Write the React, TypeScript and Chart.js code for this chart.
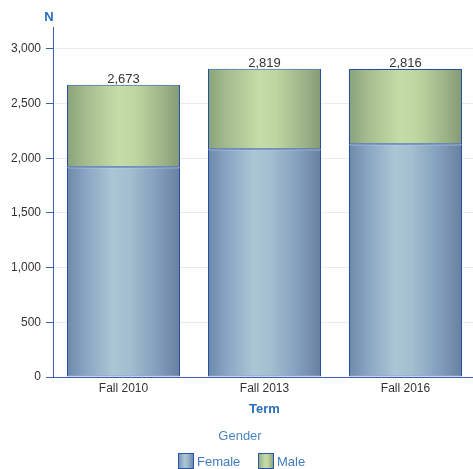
import React, { useEffect, useRef } from "react";
import { Chart, registerables } from "chart.js";

Chart.register(...registerables);

const categories = ["Fall 2010", "Fall 2013", "Fall 2016"];
const femaleValues = [1918, 2083, 2129];
const maleValues = [755, 736, 687];
const yTicks = [0, 500, 1000, 1500, 2000, 2500, 3000];

const FONT = "'Liberation Sans', Arial, sans-serif";

const femaleStops: [number, string][] = [
  [0, "#6f88a9"],
  [0.15, "#87a3c1"],
  [0.4, "#aac5d3"],
  [0.55, "#a3bfd0"],
  [0.8, "#839ebc"],
  [1, "#67809d"],
];
const maleStops: [number, string][] = [
  [0, "#89a279"],
  [0.15, "#a2ba8d"],
  [0.45, "#c6dca7"],
  [0.6, "#c0d6a1"],
  [0.85, "#9db388"],
  [1, "#839a73"],
];

function makeGrad(ctx: CanvasRenderingContext2D, x0: number, x1: number, stops: [number, string][]) {
  const g = ctx.createLinearGradient(x0, 0, x1, 0);
  stops.forEach(([o, c]) => g.addColorStop(o, c));
  return g;
}

const BAR_W = 113;

function barBg(stops: [number, string][]) {
  return (c: any) => {
    const chart = c.chart;
    const xs = chart.scales && chart.scales.x;
    if (!chart.chartArea || !xs || c.dataIndex === undefined) return stops[2][1];
    const center = xs.getPixelForValue(c.dataIndex);
    return makeGrad(chart.ctx, center - BAR_W / 2, center + BAR_W / 2, stops);
  };
}

const extrasPlugin = {
  id: "extras",
  afterDatasetsDraw(chart: any) {
    const ctx = chart.ctx as CanvasRenderingContext2D;
    const meta = chart.getDatasetMeta(1);
    ctx.save();
    ctx.font = `13px ${FONT}`;
    ctx.fillStyle = "#333333";
    ctx.textAlign = "center";
    ctx.textBaseline = "bottom";
    meta.data.forEach((bar: any, i: number) => {
      const total = femaleValues[i] + maleValues[i];
      ctx.fillText(total.toLocaleString("en-US"), bar.x, bar.y + 1);
    });
    ctx.restore();
  },
  afterDraw(chart: any) {
    const ctx = chart.ctx as CanvasRenderingContext2D;
    const ys = chart.scales.y;
    ctx.save();
    ctx.font = `bold 13px ${FONT}`;
    ctx.fillStyle = "#2a6ebb";
    ctx.textAlign = "center";
    ctx.textBaseline = "middle";
    ctx.fillText("N", ys.right - 4, chart.chartArea.top - 10);
    ctx.font = `13px ${FONT}`;
    ctx.fillStyle = "#4a86c4";
    ctx.fillText("Gender", 240, 436);
    const items: [string, [number, string][], number][] = [
      ["Female", femaleStops, 178],
      ["Male", maleStops, 258],
    ];
    items.forEach(([label, stops, x]) => {
      ctx.fillStyle = makeGrad(ctx, x, x + 16, stops);
      ctx.fillRect(x, 453, 16, 16);
      ctx.strokeStyle = "#2b55a8";
      ctx.lineWidth = 1;
      ctx.strokeRect(x + 0.5, 453.5, 15, 15);
      ctx.fillStyle = "#3f7cc0";
      ctx.textAlign = "left";
      ctx.fillText(label, x + 19, 462);
    });
    ctx.restore();
  },
};

export default function App() {
  const ref = useRef<HTMLCanvasElement | null>(null);
  useEffect(() => {
    document.body.style.margin = "0";
    const canvas = ref.current!;
    const common = {
      borderColor: "#2450a6",
      borderWidth: 1,
      borderSkipped: false,
      barThickness: BAR_W,
      inflateAmount: 0,
    };
    const chart = new Chart(canvas, {
      type: "bar",
      data: {
        labels: categories,
        datasets: [
          { label: "Female", data: femaleValues, backgroundColor: barBg(femaleStops), ...common },
          { label: "Male", data: maleValues, backgroundColor: barBg(maleStops), ...common },
        ],
      },
      options: {
        responsive: false,
        animation: false,
        devicePixelRatio: 1,
        layout: { padding: { top: 27, bottom: 52, left: 0, right: 0 } },
        plugins: { legend: { display: false }, tooltip: { enabled: false } },
        scales: {
          x: {
            stacked: true,
            offset: true,
            grid: { display: true, drawOnChartArea: false, drawTicks: false },
            border: { display: true, color: "#3a62b0", width: 1 },
            ticks: { color: "#333333", font: { family: FONT, size: 12 }, padding: 4 },
            title: {
              display: true,
              text: "Term",
              color: "#2a6ebb",
              font: { family: FONT, size: 13, weight: "bold" },
              padding: { top: 3, bottom: 0 },
            },
            afterFit(scale: any) {
              scale.height = 40;
            },
          },
          y: {
            stacked: true,
            min: 0,
            max: 3200,
            afterBuildTicks(scale: any) {
              scale.ticks = yTicks.map((v) => ({ value: v }));
            },
            grid: { color: "#ebebeb", tickColor: "#3a62b0", tickLength: 7 },
            border: { display: true, color: "#3a62b0", width: 1 },
            ticks: {
              color: "#333333",
              font: { family: FONT, size: 12 },
              padding: 5,
              callback: (v: any) => Number(v).toLocaleString("en-US"),
            },
            afterFit(scale: any) {
              scale.width = 53;
            },
          },
        },
      },
      plugins: [extrasPlugin],
    });
    return () => chart.destroy();
  }, []);
  return (
    <div style={{ width: 473, height: 469, overflow: "hidden", position: "relative" }}>
      <canvas ref={ref} width={476} height={469} style={{ display: "block" }} />
    </div>
  );
}
